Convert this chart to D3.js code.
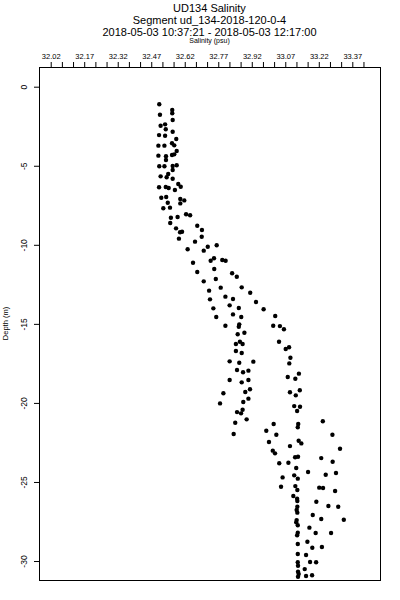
<!DOCTYPE html>
<html>
<head>
<meta charset="utf-8">
<script src="https://cdnjs.cloudflare.com/ajax/libs/d3/7.8.5/d3.min.js"></script>
<style>
  body { margin: 0; background: #fff; }
  text { font-family: "Liberation Sans", Arial, sans-serif; fill: #000; }
</style>
</head>
<body>
<script>

// Width and height
var w = 400;
var h = 600;

// titles
var titleLines = ["UD134 Salinity", "Segment ud_134-2018-120-0-4", "2018-05-03 10:37:21 - 2018-05-03 12:17:00"];
var xTitle = "Salinity (psu)";
var yTitle = "Depth (m)";

// tick values
var xLabelTicks = [32.02, 32.17, 32.32, 32.47, 32.62, 32.77, 32.92, 33.07, 33.22, 33.37];
var xMinorTicks = [32.02, 32.07, 32.12, 32.17, 32.22, 32.27, 32.32, 32.37, 32.42, 32.47, 32.52, 32.57, 32.62, 32.67, 32.72,
  32.77, 32.82, 32.87, 32.92, 32.97, 33.02, 33.07, 33.12, 33.17, 33.22, 33.27, 33.32, 33.37, 33.42];
var yTicks = [0, -5, -10, -15, -20, -25, -30];

// salinity (psu) per sample
var salinity = [
  32.506, 32.564, 32.564, 32.509, 32.566, 32.512, 32.532, 32.535, 32.566, 32.505,
  32.532, 32.582, 32.563, 32.573, 32.502, 32.529, 32.584, 32.502, 32.536, 32.536,
  32.563, 32.573, 32.506, 32.529, 32.566, 32.584, 32.566, 32.512, 32.539, 32.546,
  32.566, 32.591, 32.602, 32.505, 32.535, 32.548, 32.576, 32.515, 32.537, 32.544,
  32.600, 32.618, 32.600, 32.524, 32.554, 32.626, 32.644, 32.558, 32.588, 32.555,
  32.581, 32.676, 32.697, 32.599, 32.608, 32.696, 32.594, 32.666, 32.633, 32.705,
  32.723, 32.763, 32.657, 32.736, 32.751, 32.788, 32.803, 32.676, 32.752, 32.832,
  32.853, 32.705, 32.759, 32.875, 32.781, 32.729, 32.913, 32.733, 32.802, 32.836,
  32.939, 32.821, 32.862, 32.748, 32.973, 32.836, 33.025, 32.761, 32.873, 32.802,
  32.864, 32.862, 33.016, 33.046, 33.064, 32.857, 32.887, 32.867, 32.849, 32.879,
  33.042, 32.849, 32.875, 33.072, 33.087, 32.821, 32.864, 32.927, 33.093, 33.088,
  32.854, 32.881, 32.905, 32.821, 32.875, 32.905, 33.081, 33.115, 33.131, 32.793,
  32.891, 32.912, 33.091, 33.117, 33.135, 32.905, 32.778, 32.882, 33.110, 33.136,
  33.123, 32.854, 32.872, 32.879, 32.897, 32.846, 33.128, 33.126, 33.018, 33.238,
  32.985, 33.030, 32.839, 33.130, 33.142, 33.281, 32.997, 33.091, 33.315, 33.014,
  33.024, 33.114, 33.127, 33.231, 33.043, 33.084, 33.282, 33.119, 33.172, 33.251,
  33.297, 33.058, 33.110, 33.126, 33.051, 33.115, 33.124, 33.222, 33.239, 33.293,
  33.106, 33.123, 33.124, 33.209, 33.263, 33.307, 33.124, 33.121, 33.124, 33.193,
  33.332, 33.231, 33.121, 33.119, 33.126, 33.178, 33.206, 33.275, 33.126, 33.123,
  33.126, 33.169, 33.191, 33.234, 33.126, 33.163, 33.181, 33.208, 33.126, 33.127,
  33.157, 33.127, 33.130, 33.163, 33.190, 33.127
];

// depth (m, negative down) per sample
var depth = [
  -1.11, -1.47, -1.68, -1.77, -2.11, -2.47, -2.38, -2.69, -2.85, -3.06,
  -3.10, -3.31, -3.58, -3.71, -3.73, -3.73, -4.07, -4.36, -4.40, -4.64,
  -4.32, -4.28, -5.03, -5.03, -5.02, -4.97, -5.27, -5.67, -5.73, -5.52,
  -5.82, -6.15, -6.33, -6.36, -6.34, -6.41, -6.53, -7.02, -6.98, -7.34,
  -7.10, -7.19, -7.38, -7.69, -7.65, -8.07, -8.13, -8.29, -8.24, -8.62,
  -8.96, -8.79, -9.06, -9.21, -9.17, -9.49, -9.61, -9.80, -10.28, -10.37,
  -10.12, -10.03, -11.13, -11.01, -10.85, -10.96, -11.01, -11.72, -11.53, -11.80,
  -12.02, -12.31, -12.16, -12.69, -12.71, -12.90, -13.03, -13.45, -13.28, -13.43,
  -13.62, -13.83, -14.00, -14.02, -14.08, -14.40, -14.50, -14.57, -14.57, -15.12,
  -15.03, -15.18, -15.12, -15.14, -15.34, -15.66, -15.56, -16.13, -16.27, -16.27,
  -16.13, -16.72, -16.84, -16.59, -16.48, -17.37, -17.46, -17.39, -17.14, -17.50,
  -17.92, -18.06, -17.96, -18.55, -18.70, -18.55, -18.36, -18.47, -18.15, -19.39,
  -19.31, -19.14, -19.33, -19.52, -19.20, -19.73, -20.03, -19.94, -20.20, -20.24,
  -20.51, -20.58, -20.66, -20.43, -21.04, -21.25, -21.33, -21.54, -21.33, -21.16,
  -21.76, -22.01, -21.97, -22.39, -22.56, -22.01, -22.47, -22.73, -22.90, -23.02,
  -23.19, -23.44, -23.40, -23.49, -23.82, -23.78, -23.72, -24.12, -24.37, -24.54,
  -24.43, -24.71, -24.58, -24.79, -25.30, -25.26, -25.51, -25.36, -25.38, -25.57,
  -25.89, -26.06, -26.20, -26.25, -26.52, -26.57, -26.57, -26.77, -26.94, -27.09,
  -27.39, -27.34, -27.41, -27.55, -27.74, -27.89, -28.23, -28.23, -28.21, -28.37,
  -28.92, -28.78, -29.16, -29.11, -29.56, -29.62, -30.06, -30.08, -30.08, -30.30,
  -30.51, -30.68, -30.82, -30.95, -30.90, -30.99
];

// plot box (pixels)
var boxL = 39, boxR = 380, boxT = 67, boxB = 580;

var x = d3.scaleLinear()
  .domain([31.9676, 33.494])
  .range([boxL, boxR]);

var y = d3.scaleLinear()
  .domain([1.246, -31.2])
  .range([boxT, boxB]);

var svg = d3.select("body")
  .append("svg")
  .attr("width", w)
  .attr("height", h);

var midX = (boxL + boxR) / 2;

// titles
svg.selectAll(".title")
  .data(titleLines)
  .enter()
  .append("text")
  .attr("class", "title")
  .attr("x", midX)
  .attr("y", function (d, i) { return 12 + i * 12; })
  .attr("text-anchor", "middle")
  .style("font-size", "11px")
  .text(function (d) { return d; });

svg.append("text")
  .attr("x", midX)
  .attr("y", 43)
  .attr("text-anchor", "middle")
  .style("font-size", "7px")
  .text(xTitle);

// top axis
var xAxis = d3.axisTop(x)
  .tickValues(xMinorTicks)
  .tickSize(5)
  .tickFormat(function (d) {
    var hit = xLabelTicks.some(function (t) { return Math.abs(t - d) < 1e-6; });
    return hit ? d3.format(".2f")(d) : "";
  });

var gx = svg.append("g")
  .attr("transform", "translate(0," + boxT + ")")
  .call(xAxis);
gx.select(".domain").remove();
gx.selectAll("line").attr("stroke", "#000");
gx.selectAll("text")
  .attr("y", -8)
  .attr("fill", "#000")
  .style("font-size", "7.5px")
  .style("font-family", "Liberation Sans, Arial, sans-serif");

// left axis
var yAxis = d3.axisLeft(y)
  .tickValues(yTicks)
  .tickSize(5)
  .tickFormat(function (d) { return String(d); });

var gy = svg.append("g")
  .attr("transform", "translate(" + boxL + ",0)")
  .call(yAxis);
gy.select(".domain").remove();
gy.selectAll("line").attr("stroke", "#000");
gy.selectAll("text")
  .attr("x", 0)
  .attr("y", 0)
  .attr("dy", 0)
  .attr("fill", "#000")
  .attr("text-anchor", "middle")
  .attr("transform", "translate(-12,0) rotate(-90)")
  .style("font-size", "8.5px")
  .style("font-family", "Liberation Sans, Arial, sans-serif");

svg.append("text")
  .attr("transform", "translate(8," + ((boxT + boxB) / 2) + ") rotate(-90)")
  .attr("text-anchor", "middle")
  .style("font-size", "7.5px")
  .text(yTitle);

// samples
svg.append("g")
  .selectAll("circle")
  .data(d3.range(salinity.length))
  .enter()
  .append("circle")
  .attr("cx", function (i) { return x(salinity[i]); })
  .attr("cy", function (i) { return y(depth[i]); })
  .attr("r", 2.2)
  .attr("fill", "#000");

// box
svg.append("rect")
  .attr("x", boxL + 0.5)
  .attr("y", boxT + 0.5)
  .attr("width", boxR - boxL)
  .attr("height", boxB - boxT)
  .attr("fill", "none")
  .attr("stroke", "#000")
  .attr("stroke-width", 1);

</script>
</body>
</html>
